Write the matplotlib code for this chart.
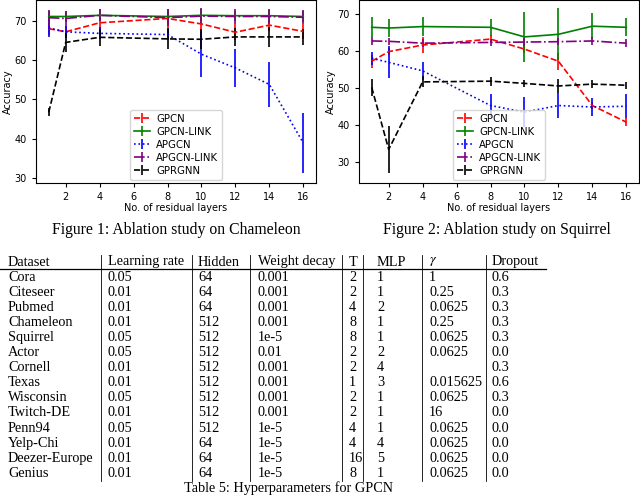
import matplotlib
matplotlib.use("Agg")
import matplotlib.pyplot as plt
from matplotlib.lines import Line2D

plt.rcParams["mathtext.fontset"] = "stix"

# layers on the x axis
layers = [1, 2, 4, 8, 10, 12, 14, 16]
models = ["GPCN", "GPCN-LINK", "APGCN", "APGCN-LINK", "GPRGNN"]

# Chameleon (Figure 1)
cham_mean = {
    "GPCN": [68.0, 67.2, 69.5, 70.6, 69.2, 67.1, 68.9, 67.3],
    "GPCN-LINK": [71.1, 71.1, 71.4, 71.1, 71.4, 71.3, 71.3, 71.1],
    "APGCN": [68.2, 67.2, 66.8, 66.5, 61.5, 58.0, 53.8, 38.9],
    "APGCN-LINK": [70.8, 70.6, 71.4, 70.8, 71.2, 71.1, 71.1, 70.9],
    "GPRGNN": [46.7, 64.5, 65.8, 65.4, 65.3, 65.9, 65.9, 65.9],
}
cham_std = {
    "GPCN": [1.5, 1.5, 1.5, 2.5, 2.0, 2.0, 1.5, 2.0],
    "GPCN-LINK": [1.5, 1.5, 1.5, 1.8, 1.5, 1.3, 1.5, 1.5],
    "APGCN": [2.3, 1.5, 1.5, 1.5, 5.7, 4.8, 5.7, 7.6],
    "APGCN-LINK": [2.0, 2.0, 1.5, 2.2, 2.1, 1.8, 1.8, 1.8],
    "GPRGNN": [1.0, 2.5, 2.2, 2.7, 2.5, 2.2, 2.5, 2.0],
}

# Squirrel (Figure 2)
squi_mean = {
    "GPCN": [57.2, 59.8, 61.6, 63.2, 60.5, 57.2, 45.2, 40.7],
    "GPCN-LINK": [66.4, 66.2, 66.6, 66.4, 63.8, 64.5, 66.7, 66.4],
    "APGCN": [58.0, 56.9, 54.6, 45.2, 43.4, 45.2, 44.8, 45.0],
    "APGCN-LINK": [62.7, 62.6, 62.1, 62.3, 62.4, 62.5, 62.7, 62.1],
    "GPRGNN": [50.1, 33.3, 51.6, 51.8, 51.2, 50.5, 51.0, 50.7],
}
squi_std = {
    "GPCN": [1.8, 1.0, 2.3, 1.0, 1.0, 2.3, 1.0, 1.0],
    "GPCN-LINK": [2.7, 2.5, 2.6, 2.3, 6.7, 7.0, 3.6, 2.4],
    "APGCN": [1.8, 4.3, 2.5, 3.0, 4.0, 3.4, 2.4, 3.3],
    "APGCN-LINK": [1.0, 1.0, 1.0, 1.0, 1.0, 1.0, 1.0, 1.0],
    "GPRGNN": [2.3, 6.3, 1.5, 1.2, 1.0, 2.0, 1.0, 1.0],
}

# Table 5
table_header = ["Dataset", "Learning rate", "Hidden", "Weight decay", "T", "MLP", r"$\gamma$", "Dropout"]
datasets = ["Cora", "Citeseer", "Pubmed", "Chameleon", "Squirrel", "Actor", "Cornell", "Texas",
            "Wisconsin", "Twitch-DE", "Penn94", "Yelp-Chi", "Deezer-Europe", "Genius"]
lr = ["0.05", "0.01", "0.01", "0.01", "0.05", "0.05", "0.01", "0.01", "0.05", "0.01", "0.05", "0.01", "0.01", "0.01"]
hidden = ["64", "64", "64", "512", "512", "512", "512", "512", "512", "512", "512", "64", "64", "64"]
wdecay = ["0.001", "0.001", "0.001", "0.001", "1e-5", "0.01", "0.001", "0.001", "0.001", "0.001", "1e-5", "1e-5", "1e-5", "1e-5"]
T_vals = ["2", "2", "4", "8", "8", "2", "2", "1", "2", "2", "4", "4", "16", "8"]
mlp = ["1", "1", "2", "1", "1", "2", "4", "3", "1", "1", "1", "4", "5", "1"]
gamma = ["1", "0.25", "0.0625", "0.25", "0.0625", "0.0625", "", "0.015625", "0.0625", "16", "0.0625", "0.0625", "0.0625", "0.0625"]
dropout = ["0.6", "0.3", "0.3", "0.3", "0.3", "0.0", "0.3", "0.6", "0.3", "0.0", "0.0", "0.0", "0.0", "0.0"]

styles = {
    "GPCN": ("red", "--"),
    "GPCN-LINK": ("green", "-"),
    "APGCN": ("blue", ":"),
    "APGCN-LINK": ("purple", "-."),
    "GPRGNN": ("black", "--"),
}

W, H = 640, 496
fig = plt.figure(figsize=(6.4, 4.96), dpi=100)


def fx(x):
    return x / W


def fy(y):
    return 1 - y / H


def draw_panel(rect, means, stds, ylim):
    ax = fig.add_axes(rect)
    for m in models:
        c, ls = styles[m]
        ax.errorbar(layers, means[m], yerr=stds[m], color=c, linestyle=ls,
                    linewidth=1.2, elinewidth=1.2, label=m)
    ax.set_xlim(0.25, 16.75)
    ax.set_ylim(*ylim)
    ax.set_xticks([2, 4, 6, 8, 10, 12, 14, 16])
    ax.set_yticks([30, 40, 50, 60, 70])
    ax.tick_params(labelsize=7, length=3, width=0.8)
    ax.set_xlabel("No. of residual layers", fontsize=7, labelpad=1)
    ax.set_ylabel("Accuracy", fontsize=7, labelpad=1)
    ax.legend(loc="lower center", fontsize=7.3, labelspacing=0.3, handlelength=1.6,
              handletextpad=0.6, borderaxespad=0.3)
    for s in ax.spines.values():
        s.set_linewidth(0.8)
    return ax


draw_panel([fx(36), fy(183), fx(280), 183 / H], cham_mean, cham_std, (28.7, 75.3))
draw_panel([fx(359), fy(183), fx(280), 183 / H], squi_mean, squi_std, (24.2, 73.8))

serif = "Liberation Serif"
fig.text(fx(176), fy(230), "Figure 1: Ablation study on Chameleon", ha="center", va="center",
         family=serif, fontsize=11.3)
fig.text(fx(497), fy(230), "Figure 2: Ablation study on Squirrel", ha="center", va="center",
         family=serif, fontsize=11.3)

# table
col_x = [8, 108, 198, 258, 349, 377, 429, 492]
vlines_x = [101, 192, 250, 342, 363, 422, 486]
row0_y = 262
row_h = 15.1
columns = [datasets, lr, hidden, wdecay, T_vals, mlp, gamma, dropout]

for j, h in enumerate(table_header):
    fig.text(fx(col_x[j]), fy(row0_y), h, ha="left", va="center", family=serif, fontsize=10.3)
for i in range(len(datasets)):
    y = row0_y + row_h * (i + 1)
    for j, col in enumerate(columns):
        fig.text(fx(col_x[j]), fy(y), col[i], ha="left", va="center", family=serif, fontsize=10.3)

fig.add_artist(Line2D([fx(0), fx(546)], [fy(269), fy(269)], color="black", linewidth=0.9))
for vx in vlines_x:
    fig.add_artist(Line2D([fx(vx), fx(vx)], [fy(255), fy(481)], color="black", linewidth=0.6))

fig.text(fx(289), fy(488.5), "Table 5: Hyperparameters for GPCN", ha="center", va="center",
         family=serif, fontsize=10.3)

fig.savefig("out.png", dpi=100)
